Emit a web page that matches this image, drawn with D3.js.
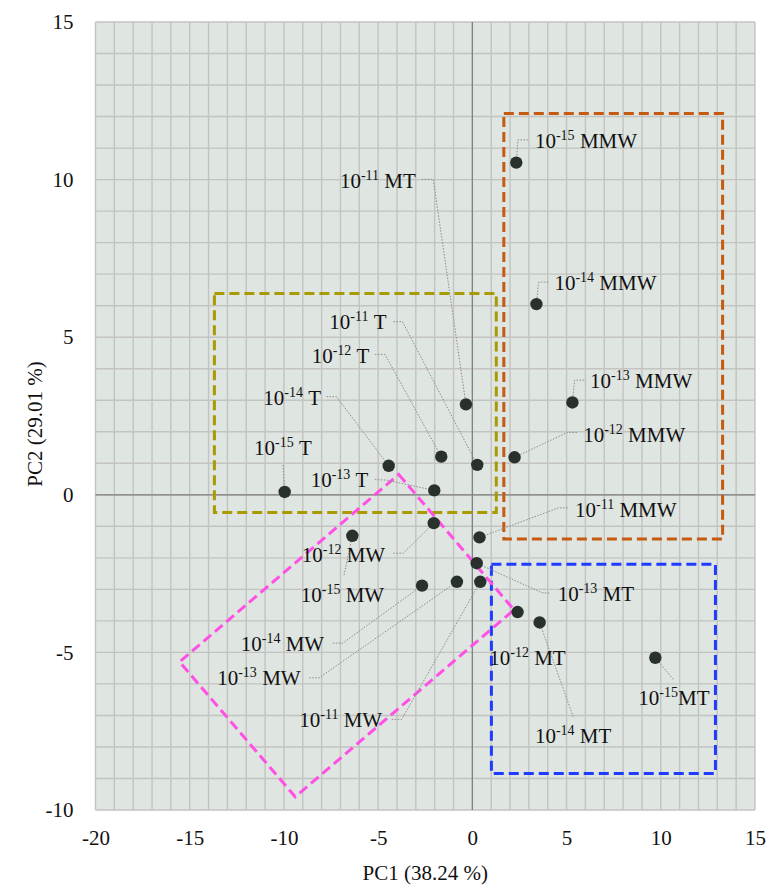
<!DOCTYPE html>
<html>
<head>
<meta charset="utf-8">
<script src="https://cdn.jsdelivr.net/npm/d3@7"></script>
<style>
  html, body { margin: 0; padding: 0; background: #ffffff; }
  svg { display: block; }
  text { font-family: "Liberation Serif", "Times New Roman", serif; fill: #111; }
</style>
</head>
<body>
<svg id="chart" width="766" height="888"></svg>
<script>
// ---- data -------------------------------------------------------------
const groups = ["MMW", "T", "MW", "MT"];
const exponents = [-15, -14, -13, -12, -11];

// PC scores per treatment, indexed like `exponents`
const pc1MMW = [2.33, 3.40, 5.31, 2.24, 0.38];
const pc2MMW = [10.54, 6.05, 2.93, 1.19, -1.35];
const pc1T   = [-9.96, -4.44, -2.02, -1.65, 0.26];
const pc2T   = [0.09, 0.92, 0.14, 1.21, 0.95];
const pc1MW  = [-6.37, -2.67, -0.82, -2.05, 0.42];
const pc2MW  = [-1.30, -2.88, -2.76, -0.90, -2.76];
const pc1MT  = [9.71, 3.57, 0.23, 2.40, -0.34];
const pc2MT  = [-5.17, -4.05, -2.17, -3.72, 2.87];

const xTicks = [-20, -15, -10, -5, 0, 5, 10, 15];
const yTicks = [-10, -5, 0, 5, 10, 15];
const xTickLabels = ["-20", "-15", "-10", "-5", "0", "5", "10", "15"];
const yTickLabels = ["-10", "-5", "0", "5", "10", "15"];
const xTitle = "PC1 (38.24 %)";
const yTitle = "PC2 (29.01 %)";

// cluster outlines in PC units
const boxMMW = [[1.67, 12.10], [13.28, 12.10], [13.28, -1.40], [1.67, -1.40]];
const boxT   = [[-13.69, 6.39], [1.27, 6.39], [1.27, -0.56], [-13.69, -0.56]];
const boxMT  = [[1.01, -2.20], [12.90, -2.20], [12.90, -8.84], [1.01, -8.84]];
const boxMW  = [[-3.91, 0.65], [2.21, -3.65], [-9.40, -9.58], [-15.54, -5.30]];

// ---- label placement (pixel offsets from each marker) ------------------
// text anchor [dx, dy] and leader-line points leading back to the marker
const labelLayout = {
  "MMW-15": { t: [18.7, -14.4], l: [[11.7, -22.7], [1.7, -22.7]] },
  "MMW-14": { t: [18, -14],     l: [[11.7, -22], [2.2, -22]] },
  "MMW-13": { t: [17.7, -14],   l: [[11.7, -22.3], [2.2, -22.3]] },
  "MMW-12": { t: [68.6, -15.6], l: [[62.3, -24.8], [52.8, -24.8]] },
  "MMW-11": { t: [95.5, -20.8], l: [[88, -29.5], [79, -29.5]] },
  "T-11":   { t: [-148, -135.4], l: [[-83.8, -143.2], [-74.8, -143.2]] },
  "T-12":   { t: [-129.6, -94],  l: [[-66.3, -102.2], [-56.3, -102.2]] },
  "T-14":   { t: [-125.4, -60.7], l: [[-62.2, -69.2], [-52.2, -69.2]] },
  "T-15":   { t: [-30.7, -37],   l: [[-1.7, -27]] },
  "T-13":   { t: [-123.6, -3.6], l: [[-59.3, -10.8], [-47.8, -10.3]] },
  "MW-12":  { t: [-132, 39],     l: [[-40.4, 30], [-30.4, 30]] },
  "MW-15":  { t: [-51.6, 66],    l: [[-8.3, 39.3]] },
  "MW-14":  { t: [-181.3, 65],   l: [[-89.3, 57.6], [-79.3, 57.6]] },
  "MW-13":  { t: [-239.7, 103.3], l: [[-147.7, 96], [-137.7, 96]] },
  "MW-11":  { t: [-181, 145],    l: [[-88.6, 137.6], [-78.6, 137.6]] },
  "MT-11":  { t: [-126, -216.6], l: [[-44.3, -225], [-32.7, -225]] },
  "MT-13":  { t: [81, 37.4],     l: [[72.6, 30], [65, 29.4]] },
  "MT-12":  { t: [-28.3, 53],    l: [] },
  "MT-14":  { t: [-4.7, 121],    l: [[33.6, 94.4]] },
  "MT-15":  { t: [-17, 47],      l: [[18, 21.6]], tight: true }
};

// ---- assemble rows ----------------------------------------------------
const pcs = {
  MMW: [pc1MMW, pc2MMW], T: [pc1T, pc2T], MW: [pc1MW, pc2MW], MT: [pc1MT, pc2MT]
};
const points = [];
groups.forEach(g => {
  exponents.forEach((e, i) => {
    points.push({ group: g, exp: e, pc1: pcs[g][0][i], pc2: pcs[g][1][i] });
  });
});

// ---- layout -----------------------------------------------------------
const margin = { left: 95.5, top: 22, right: 11, bottom: 78 };
const W = 766, H = 888;
const svg = d3.select("#chart");

const x = d3.scaleLinear().domain([-20, 15]).range([margin.left, W - margin.right]);
const y = d3.scaleLinear().domain([-10, 15]).range([H - margin.bottom, margin.top]);

// plot background
svg.append("rect")
  .attr("x", x(-20)).attr("y", y(15))
  .attr("width", x(15) - x(-20)).attr("height", y(-10) - y(15))
  .attr("fill", "#dfe5e1");

// unit grid
const gridX = d3.range(-20, 16, 1);
const gridY = d3.range(-10, 16, 1);
const grid = svg.append("g").attr("stroke", "#c3c3c1").attr("stroke-width", 1.4);
grid.selectAll("line.gx").data(gridX).join("line")
  .attr("x1", d => x(d)).attr("x2", d => x(d))
  .attr("y1", y(15)).attr("y2", y(-10));
grid.selectAll("line.gy").data(gridY).join("line")
  .attr("y1", d => y(d)).attr("y2", d => y(d))
  .attr("x1", x(-20)).attr("x2", x(15));

// zero axes
svg.append("line").attr("x1", x(0)).attr("x2", x(0)).attr("y1", y(15)).attr("y2", y(-10))
  .attr("stroke", "#7f7f7f").attr("stroke-width", 1.2);
svg.append("line").attr("y1", y(0)).attr("y2", y(0)).attr("x1", x(-20)).attr("x2", x(15))
  .attr("stroke", "#7f7f7f").attr("stroke-width", 1.2);

// axes (labels only)
const xAxis = d3.axisBottom(x).tickValues(xTicks)
  .tickFormat((d, i) => xTickLabels[i]).tickSize(0).tickPadding(20);
const yAxis = d3.axisLeft(y).tickValues(yTicks)
  .tickFormat((d, i) => yTickLabels[i]).tickSize(0).tickPadding(22);
const gx = svg.append("g").attr("transform", `translate(0,${y(-10)})`).call(xAxis);
const gy = svg.append("g").attr("transform", `translate(${x(-20)},0)`).call(yAxis);
[gx, gy].forEach(g => {
  g.select(".domain").remove();
  g.selectAll("text").attr("font-family", "Liberation Serif, serif")
    .attr("font-size", 21).attr("fill", "#111");
});

// axis titles
svg.append("text").attr("x", (x(-20) + x(15)) / 2).attr("y", 880)
  .attr("text-anchor", "middle").attr("font-size", 21).text(xTitle);
svg.append("text")
  .attr("transform", `translate(42,${(y(15) + y(-10)) / 2 + 8}) rotate(-90)`)
  .attr("text-anchor", "middle").attr("font-size", 21).text(yTitle);

// cluster outlines
const outlines = [
  { pts: boxT,   color: "#a89a00" },
  { pts: boxMMW, color: "#c55a11" },
  { pts: boxMT,  color: "#1f3bff" },
  { pts: boxMW,  color: "#ff4fe6" }
];
const lineGen = d3.line().x(d => x(d[0])).y(d => y(d[1])).curve(d3.curveLinearClosed);
svg.append("g").selectAll("path").data(outlines).join("path")
  .attr("d", d => lineGen(d.pts))
  .attr("fill", "none").attr("stroke", d => d.color)
  .attr("stroke-width", 3).attr("stroke-dasharray", "10,5");

// leader lines
const leaders = svg.append("g");
points.forEach(p => {
  const lay = labelLayout[`${p.group}${p.exp}`];
  if (!lay || lay.l.length === 0) return;
  const cx = x(p.pc1), cy = y(p.pc2);
  const pts = lay.l.map(o => [cx + o[0], cy + o[1]]).concat([[cx, cy]]);
  leaders.append("path")
    .attr("d", d3.line()(pts))
    .attr("fill", "none").attr("stroke", "#8c8c8c")
    .attr("stroke-width", 1).attr("stroke-dasharray", "1.5,1.5");
});

// markers
svg.append("g").selectAll("circle").data(points).join("circle")
  .attr("cx", d => x(d.pc1)).attr("cy", d => y(d.pc2))
  .attr("r", 6.2).attr("fill", "#28312c");

// point labels: 10^exp + group
const labels = svg.append("g");
points.forEach(p => {
  const lay = labelLayout[`${p.group}${p.exp}`];
  const cx = x(p.pc1), cy = y(p.pc2);
  const t = labels.append("text")
    .attr("x", cx + lay.t[0]).attr("y", cy + lay.t[1])
    .attr("font-size", 21);
  t.append("tspan").text("10");
  t.append("tspan").attr("font-size", 14).attr("dy", -8).text(String(p.exp).replace("-", "-"));
  t.append("tspan").attr("dy", 8).text((lay.tight ? "" : "\u00a0") + p.group);
});
</script>
</body>
</html>
